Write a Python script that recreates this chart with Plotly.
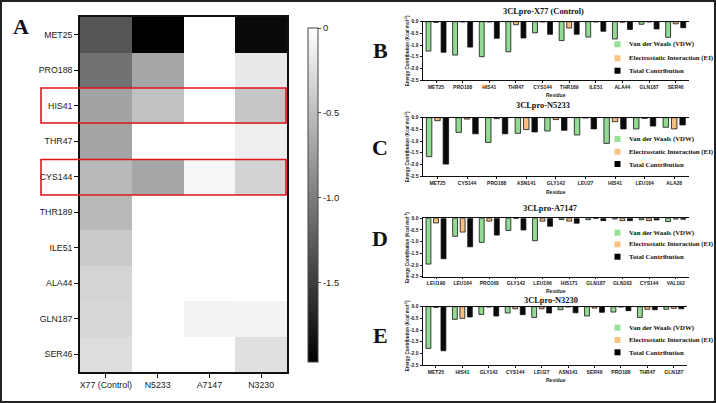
import plotly.graph_objects as go

W, H = 716, 403

# ---------------- data ----------------
compounds = ["X77 (Control)", "N5233", "A7147", "N3230"]
legend_names = ["Van der Waals (VDW)", "Electrostatic Interaction (EI)", "Total Contribution"]

x77_res = ["MET25", "PRO188", "HIS41", "THR47", "CYS144", "THR189", "ILE51", "ALA44", "GLN187", "SER46"]
x77_vdw = [-1.26, -1.43, -1.50, -1.29, -0.48, -0.81, -0.66, -0.74, -0.11, -0.67]
x77_ei = [-0.03, -0.01, -0.01, -0.13, -0.01, -0.27, -0.01, -0.02, -0.01, -0.09]
x77_tot = [-1.31, -1.09, -0.71, -0.70, -0.54, -0.54, -0.41, -0.33, -0.31, -0.26]

n5233_res = ["MET25", "CYS144", "PRO188", "ASN141", "GLY142", "LEU27", "HIS41", "LEU164", "ALA28"]
n5233_vdw = [-1.67, -0.63, -1.06, -0.67, -0.57, -0.74, -1.10, -0.48, -0.41]
n5233_ei = [-0.13, -0.06, -0.04, -0.51, -0.08, -0.01, -0.17, -0.03, -0.48]
n5233_tot = [-1.99, -0.69, -0.69, -0.61, -0.54, -0.48, -0.48, -0.36, -0.31]

a7147_res = ["LEU190", "LEU164", "PRO168", "GLY142", "LEU166", "HIS171", "GLN187", "GLN163", "CYS144", "VAL192"]
a7147_vdw = [-1.96, -0.77, -1.03, -0.52, -0.96, -0.05, -0.06, -0.03, -0.06, -0.14]
a7147_ei = [-0.20, -0.59, -0.12, -0.01, -0.12, -0.12, -0.01, -0.10, -0.10, -0.03]
a7147_tot = [-1.73, -1.22, -0.72, -0.50, -0.34, -0.21, -0.10, -0.10, -0.07, -0.04]

n3230_res = ["MET25", "HIS41", "GLY142", "CYS144", "LEU27", "ASN141", "SER46", "PRO188", "THR47", "GLN187"]
n3230_vdw = [-1.79, -0.54, -0.33, -0.27, -0.46, -0.13, -0.40, -0.23, -0.46, -0.11]
n3230_ei = [-0.03, -0.50, -0.01, -0.09, -0.09, -0.01, -0.06, -0.01, -0.11, -0.07]
n3230_tot = [-1.89, -0.44, -0.40, -0.34, -0.27, -0.26, -0.24, -0.17, -0.13, -0.09]

heat_rows = x77_res
heat_zmin = -1.97

# ---------------- helpers ----------------
def px(x):
    return x / W

def py(y):
    return 1 - y / H

SANS = "Liberation Sans, Arial, sans-serif"
SERIF = "Liberation Serif, Times New Roman, serif"
GREEN = "#93da93"
ORANGE = "#f9be80"
BLACK = "#0a0a0a"

fig = go.Figure()

# ---------------- heatmap (panel A) ----------------
totals = [
    dict(zip(x77_res, x77_tot)),
    dict(zip(n5233_res, n5233_tot)),
    dict(zip(a7147_res, a7147_tot)),
    dict(zip(n3230_res, n3230_tot)),
]
z = [[t.get(r, 0.0) for t in totals] for r in heat_rows]

fig.add_trace(go.Heatmap(
    z=z, x=compounds, y=heat_rows, xaxis="x", yaxis="y",
    zmin=heat_zmin, zmax=0,
    colorscale=[[0, "#000000"], [1, "#ffffff"]],
    showscale=True,
    colorbar=dict(
        x=px(297.7), xanchor="left", xref="paper",
        y=py(195), yanchor="middle", len=354 / H, lenmode="fraction",
        thickness=10, thicknessmode="pixels",
        outlinewidth=1, outlinecolor="#444",
        tickvals=[0, -0.5, -1.0, -1.5], ticktext=["0", "-0.5", "-1.0", "-1.5"],
        ticks="outside", ticklen=3, tickcolor="#555",
        tickfont=dict(family=SANS, size=9.5, color="#222"),
    ),
    hoverinfo="skip",
))

layout = dict(
    width=W, height=H,
    margin=dict(l=0, r=0, t=0, b=0),
    paper_bgcolor="white", plot_bgcolor="white",
    showlegend=False,
    barmode="group", bargap=0.15, bargroupgap=0.35,
    xaxis=dict(domain=[px(80), px(287)], anchor="y", showgrid=False, zeroline=False,
               automargin=False,
               showline=True, mirror=True, linecolor="#111", linewidth=1.5,
               ticks="outside", ticklen=4, tickwidth=1.2, tickcolor="#111",
               tickfont=dict(family=SANS, size=8.8, color="#1a1a1a")),
    yaxis=dict(domain=[py(372), py(17)], anchor="x", showgrid=False, zeroline=False,
               autorange="reversed", automargin=False,
               showline=True, mirror=True, linecolor="#111", linewidth=1.5,
               ticks="outside", ticklen=4, tickwidth=1.2, tickcolor="#111",
               tickfont=dict(family=SANS, size=8.8, color="#1a1a1a")),
)

# ---------------- bar charts (panels B–E) ----------------
panels = [
    dict(res=x77_res, vals=[x77_vdw, x77_ei, x77_tot], top=21.7, bot=80.0, left=422.7, right=689,
         title="3CLpro-X77 (Control)", tx=543, ty=11, rx=95, leg=[44.3, 58.3, 70.7], letter="B", ly=50),
    dict(res=n5233_res, vals=[n5233_vdw, n5233_ei, n5233_tot], top=117.7, bot=176.0, left=422.7, right=689,
         title="3CLpro-N5233", tx=543, ty=105.7, rx=191.7, leg=[139, 151.7, 164], letter="C", ly=147),
    dict(res=a7147_res, vals=[a7147_vdw, a7147_ei, a7147_tot], top=218.3, bot=276.7, left=422.7, right=689,
         title="3CLpro-A7147", tx=550, ty=208.3, rx=290.7, leg=[232.7, 244.3, 256.7], letter="D", ly=238),
    dict(res=n3230_res, vals=[n3230_vdw, n3230_ei, n3230_tot], top=306.7, bot=365.0, left=422.7, right=687,
         title="3CLpro-N3230", tx=551, ty=300, rx=380, leg=[327.7, 340, 352.3], letter="E", ly=335),
]

annotations = []
shapes = []
colors = [GREEN, ORANGE, BLACK]

for i, p in enumerate(panels):
    n = i + 2
    xa, ya = f"x{n}", f"y{n}"
    for k in range(3):
        fig.add_trace(go.Bar(
            x=p["res"], y=p["vals"][k], xaxis=xa, yaxis=ya, name=legend_names[k],
            marker=dict(color=colors[k], line=dict(color="#111", width=0.8)),
            hoverinfo="skip",
        ))
    layout[f"xaxis{n}"] = dict(
        domain=[px(p["left"]), px(p["right"])], anchor=ya, showgrid=False, zeroline=False,
        automargin=False,
        showline=True, mirror=True, linecolor="#111", linewidth=1.3,
        ticks="outside", ticklen=1.5, tickwidth=1, tickcolor="#111",
        tickfont=dict(family=SANS, size=5, color="#222", weight="bold"),
    )
    layout[f"yaxis{n}"] = dict(
        domain=[py(p["bot"]), py(p["top"])], anchor=xa, range=[-2.5, 0],
        automargin=False,
        showgrid=False, zeroline=False, showline=True, linecolor="#111", linewidth=1.3,
        tickvals=[0, -0.5, -1.0, -1.5, -2.0, -2.5],
        ticktext=["0.0", "-0.5", "-1.0", "-1.5", "-2.0", "-2.5"],
        ticks="outside", ticklen=2, tickwidth=1, tickcolor="#111",
        tickfont=dict(family=SANS, size=5, color="#222", weight="bold"),
    )
    # title
    annotations.append(dict(text=f"<b>{p['title']}</b>", x=px(p["tx"]), y=py(p["ty"]),
                            xref="paper", yref="paper", showarrow=False,
                            xanchor="center", yanchor="middle",
                            font=dict(family=SERIF, size=8.4, color="#111")))
    # x title
    annotations.append(dict(text="<b>Residue</b>", x=px(556), y=py(p["rx"]),
                            xref="paper", yref="paper", showarrow=False,
                            xanchor="center", yanchor="middle",
                            font=dict(family=SANS, size=5, color="#222")))
    # y title
    annotations.append(dict(text="<b>Energy Contribution (Kcal mol<sup>-1</sup>)</b>",
                            x=px(406.5), y=py((p["top"] + p["bot"]) / 2),
                            xref="paper", yref="paper", showarrow=False, textangle=-90,
                            xanchor="center", yanchor="middle",
                            font=dict(family=SANS, size=4.6, color="#222")))
    # legend
    for k in range(3):
        yy = p["leg"][k]
        shapes.append(dict(type="rect", xref="paper", yref="paper",
                           x0=px(614.5), x1=px(620.5), y0=py(yy + 3), y1=py(yy - 3),
                           fillcolor=["#98e098", "#fbc383", "#000000"][k], line=dict(width=0)))
        annotations.append(dict(text=f"<b>{legend_names[k]}</b>", x=px(626.5), y=py(yy),
                                xref="paper", yref="paper", showarrow=False,
                                xanchor="left", yanchor="middle",
                                font=dict(family=SERIF, size=6.8, color="#111")))
    # panel letter
    annotations.append(dict(text=f"<b>{p['letter']}</b>", x=px(380), y=py(p["ly"]),
                            xref="paper", yref="paper", showarrow=False,
                            xanchor="center", yanchor="middle",
                            font=dict(family=SERIF, size=22, color="#111")))

annotations.append(dict(text="<b>A</b>", x=px(21), y=py(27), xref="paper", yref="paper",
                        showarrow=False, xanchor="center", yanchor="middle",
                        font=dict(family=SERIF, size=22, color="#111")))

# red highlight boxes
for (y0, y1) in [(88, 123), (159.5, 195)]:
    shapes.append(dict(type="rect", xref="paper", yref="paper",
                       x0=px(41), x1=px(286), y0=py(y1), y1=py(y0),
                       line=dict(color="#e0161c", width=1.6), fillcolor="rgba(0,0,0,0)"))

# outer frame
shapes.append(dict(type="rect", xref="paper", yref="paper",
                   x0=px(1), x1=px(715), y0=py(402), y1=py(1),
                   line=dict(color="#222", width=2), fillcolor="rgba(0,0,0,0)"))

layout["annotations"] = annotations
layout["shapes"] = shapes
fig.update_layout(**layout)

fig.write_html("out.html", config={"displayModeBar": False},
               post_script="document.body.style.margin='0';document.body.style.overflow='hidden';")
